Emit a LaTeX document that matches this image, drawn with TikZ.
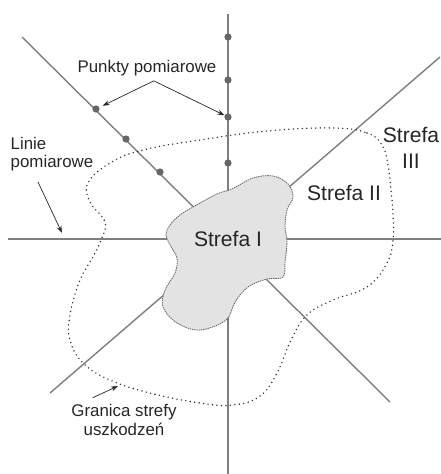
\documentclass[tikz,border=0pt]{standalone}
\usepackage{fontspec}
\setmainfont{Liberation Sans}
\usetikzlibrary{arrows.meta, positioning, calc}
\definecolor{linegray}{HTML}{7F7F7F}
\definecolor{dotgray}{HTML}{666666}
\definecolor{zonefill}{HTML}{E3E3E3}
\definecolor{inkdark}{HTML}{262626}

\tikzset{
  measline/.style={draw=linegray, line width=1pt},
  mpoint/.style={circle, fill=dotgray, inner sep=0pt, minimum size=0.18cm},
  pointer/.style={draw=inkdark, line width=0.5pt, -{Stealth[length=5pt,width=3.5pt]}},
  boundary/.style={draw=inkdark, line width=1.1pt, line cap=round, dash pattern=on 0pt off 3.2pt},
  lbl/.style={font=\fontsize{12}{13}\selectfont, text=inkdark},
  zonelbl/.style={font=\fontsize{15}{18}\selectfont, text=inkdark}
}

\begin{document}
\begin{tikzpicture}[x=0.025cm, y=-0.025cm]
\useasboundingbox (0,0) rectangle (441,474);

% measurement lines
\coordinate (vtop) at (228,14);
\coordinate (vbot) at (228,474);
\coordinate (hleft) at (8,239);
\coordinate (hright) at (441,239);
\coordinate (aup) at (22,37);
\coordinate (adown) at (390,402);
\coordinate (bup) at (440,57);
\coordinate (bdown) at (50,393);
\draw[measline] (vtop) -- (vbot);
\draw[measline] (hleft) -- (hright);
\draw[measline] (aup) -- (adown);
\draw[measline] (bup) -- (bdown);

% damage zone boundary
\draw[boundary] plot[smooth cycle, tension=0.7] coordinates {
  (333,128) (367,133) (382,145) (388,165) (391,190) (393,215) (393,240)
  (387,263) (367,287) (333,300) (307,315) (291,340) (277,373) (260,396)
  (233,405) (200,403) (150,393) (110,380) (83,363) (70,340) (70,315)
  (80,280) (93,257) (101,240) (105,222) (90,202) (88,183) (110,163)
  (143,150) (200,140) (267,131)};

% zone I
\draw[draw=dotgray, fill=zonefill, line width=0.6pt, dash pattern=on 1pt off 0.6pt]
  plot[smooth cycle, tension=0.6] coordinates {
  (193,207) (217,194) (232,189) (253,178) (273,176) (288,184) (293,197)
  (287,210) (285,227) (287,242) (285,262) (283,277) (267,279) (248,287)
  (235,302) (226,320) (200,330) (177,323) (163,307) (165,290) (175,273)
  (177,258) (170,245) (166,235) (170,225) (180,215)};

% measuring points
\foreach \n/\y in {1/37,2/80,3/117,4/163}
  \node[mpoint] (v\n) at (228,\y) {};
\foreach \n/\x/\y in {1/96/109,2/126/139,3/160/172}
  \node[mpoint] (d\n) at (\x,\y) {};

% labels
\node[lbl] (punkty) at (147,68) {Punkty pomiarowe};
\node[lbl, align=left] (linie) at (52,154) {Linie\\pomiarowe};
\node[zonelbl, align=center] (strefa3) at (411,148) {Strefa\\III};
\node[zonelbl] (strefa2) at (344,193) {Strefa II};
\node[zonelbl] (strefa1) at (228,239) {Strefa I};
\node[lbl, align=center] (granica) at (124,420) {Granica strefy\\uszkodzeń};

% pointers
\coordinate (linietip) at (62,233);
\coordinate (granicatip) at (118,386);
\draw[pointer, shorten >=2.5pt] ([xshift=0.17cm]punkty.south) -- (d1);
\draw[pointer] ([xshift=0.17cm]punkty.south) -- (v3);
\draw[pointer] ([xshift=-0.35cm,yshift=-0.15cm]linie.south) -- (linietip);
\draw[pointer] ([xshift=-0.78cm,yshift=0.05cm]granica.north) -- (granicatip);
\end{tikzpicture}
\end{document}
